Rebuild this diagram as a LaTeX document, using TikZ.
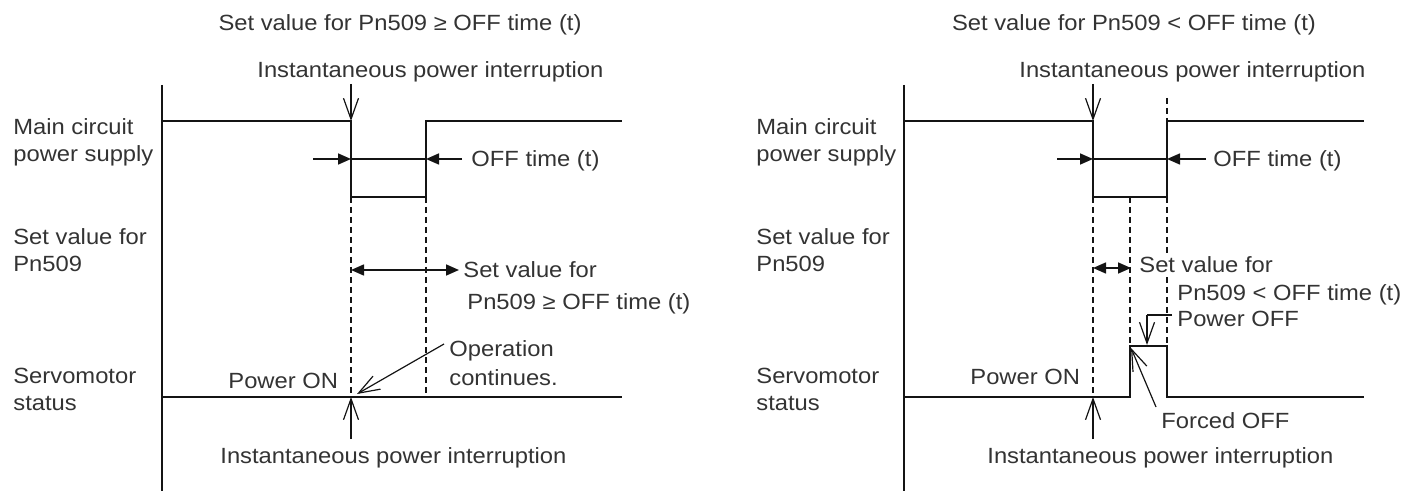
\documentclass[tikz,border=0pt]{standalone}
\usepackage{fontspec}
\setmainfont[FakeStretch=1.08]{Liberation Sans}
\usetikzlibrary{arrows.meta}
\definecolor{txtc}{gray}{0.2}
\definecolor{linec}{gray}{0.08}
\begin{document}
\begin{tikzpicture}[x=0.5pt,y=-0.5pt,
  lbl/.style={anchor=base west, inner sep=0pt, font=\fontsize{11}{13}\selectfont, text=txtc},
  ctr/.style={lbl, anchor=base},
  wave/.style={line width=0.85pt, draw=linec},
  dsh/.style={line width=0.85pt, draw=linec, dash pattern=on 3pt off 2pt},
  vhead/.style={draw=linec, line width=0.6pt, -{Straight Barb[length=10.5pt,width=7.5pt,line width=0.6pt]}},
  fhead/.style={draw=linec, line width=0.8pt, -{Triangle[length=6.5pt,width=5.5pt]}},
  dhead/.style={draw=linec, line width=0.8pt, {Triangle[length=6.5pt,width=5.5pt]}-{Triangle[length=6.5pt,width=5.5pt]}},
  ]
\useasboundingbox (0,0) rectangle (1411,491);

% ================= LEFT PANEL =================
\node[ctr] (Ltitle) at (400,31) {Set value for Pn509 ≥ OFF time (t)};
\node[lbl] (Ltop) at (257,78) {Instantaneous power interruption};
\node[lbl] (Lm1) at (13,135) {Main circuit};
\node[lbl] (Lm2) at (13,162) {power supply};
\node[lbl] (Ls1) at (13,245) {Set value for};
\node[lbl] (Ls2) at (13,271) {Pn509};
\node[lbl] (Lv1) at (13,383) {Servomotor};
\node[lbl] (Lv2) at (13,410) {status};
\node[lbl] (Loff) at (471,167) {OFF time (t)};
\node[lbl] (Lset1) at (463,278) {Set value for};
\node[lbl] (Lset2) at (467,309) {Pn509 ≥ OFF time (t)};
\node[lbl] (Lop1) at (449,356) {Operation};
\node[lbl] (Lop2) at (449,385) {continues.};
\node[lbl] (Lon) at (228,388) {Power ON};
\node[lbl] (Lbot) at (220,463) {Instantaneous power interruption};

\coordinate (LaxT) at (162,85);
\coordinate (LaxB) at (162,491);
\coordinate (L1) at (162,121);
\coordinate (L2) at (351,121);
\coordinate (L3) at (351,197);
\coordinate (L4) at (426,197);
\coordinate (L5) at (426,121);
\coordinate (L6) at (622,121);
\coordinate (LS1) at (162,397);
\coordinate (LS2) at (622,397);
\coordinate (LdA) at (351,397);
\coordinate (LdB) at (426,397);
\coordinate (LiT) at (351,84);
\coordinate (LiB) at (351,439);
\coordinate (LoA) at (313,159);
\coordinate (LoB) at (462,159);
\coordinate (LoL) at (351,159);
\coordinate (LoR) at (426,159);
\coordinate (LsA) at (351,270);
\coordinate (LsB) at (459,270);
\coordinate (LopS) at (444,344);
\coordinate (LopE) at (357,394);

\draw[wave] (LaxT) -- (LaxB);
\draw[wave] (L1) -- (L2) -- (L3) -- (L4) -- (L5) -- (L6);
\draw[wave] (LS1) -- (LS2);
\draw[dsh] (L3) -- (LdA);
\draw[dsh] (L4) -- (LdB);
\draw[wave] (LoL) -- (LoR);
\draw[fhead] (LoA) -- (LoL);
\draw[fhead] (LoB) -- (LoR);
\draw[vhead] (LiT) -- (L2);
\draw[vhead] (LiB) -- (LdA);
\draw[dhead] (LsA) -- (LsB);
\draw[vhead] (LopS) -- (LopE);

% ================= RIGHT PANEL =================
\node[ctr] (Rtitle) at (1134,31) {Set value for Pn509 < OFF time (t)};
\node[lbl] (Rtop) at (1019,78) {Instantaneous power interruption};
\node[lbl] (Rm1) at (756,135) {Main circuit};
\node[lbl] (Rm2) at (756,162) {power supply};
\node[lbl] (Rs1) at (756,245) {Set value for};
\node[lbl] (Rs2) at (756,271) {Pn509};
\node[lbl] (Rv1) at (756,383) {Servomotor};
\node[lbl] (Rv2) at (756,410) {status};
\node[lbl] (Roff) at (1213,167) {OFF time (t)};
\node[lbl] (Rset2) at (1177,300) {Pn509 < OFF time (t)};
\node[lbl] (Rpoff) at (1177,327) {Power OFF};
\node[lbl] (Rfoff) at (1161,428) {Forced OFF};
\node[lbl] (Ron) at (970,384) {Power ON};
\node[lbl] (Rbot) at (987,463) {Instantaneous power interruption};

\coordinate (RaxT) at (904,85);
\coordinate (RaxB) at (904,491);
\coordinate (R1) at (904,121);
\coordinate (R2) at (1093,121);
\coordinate (R3) at (1093,197);
\coordinate (R4) at (1167,197);
\coordinate (R5) at (1167,121);
\coordinate (R6) at (1364,121);
\coordinate (R5t) at (1167,98);
\coordinate (RP) at (1130,197);
\coordinate (RS1) at (904,397);
\coordinate (RS2) at (1130,397);
\coordinate (RS3) at (1130,346);
\coordinate (RS4) at (1167,346);
\coordinate (RS5) at (1167,397);
\coordinate (RS6) at (1364,397);
\coordinate (RdA) at (1093,397);
\coordinate (RiT) at (1093,84);
\coordinate (RiB) at (1093,439);
\coordinate (RoA) at (1057,159);
\coordinate (RoB) at (1206,159);
\coordinate (RoL) at (1093,159);
\coordinate (RoR) at (1167,159);
\coordinate (RsA) at (1093,268);
\coordinate (RsB) at (1131,268);
\coordinate (RpoA) at (1172,315);
\coordinate (RpoB) at (1147,315);
\coordinate (RpoE) at (1147,345);
\coordinate (RfoS) at (1156,407);
\coordinate (RfoE) at (1131,348);

\draw[wave] (RaxT) -- (RaxB);
\draw[wave] (R1) -- (R2) -- (R3) -- (R4) -- (R5) -- (R6);
\draw[dsh] (R5t) -- (R5);
\draw[wave] (RS1) -- (RS2) -- (RS3) -- (RS4) -- (RS5) -- (RS6);
\draw[dsh] (R3) -- (RdA);
\draw[dsh] (RP) -- (RS3);
\draw[dsh] (R4) -- (RS4);
\draw[wave] (RoL) -- (RoR);
\draw[fhead] (RoA) -- (RoL);
\draw[fhead] (RoB) -- (RoR);
\draw[vhead] (RiT) -- (R2);
\draw[vhead] (RiB) -- (RdA);
\draw[dhead] (RsA) -- (RsB);
\draw[draw=linec, line width=0.6pt] (RpoA) -- (RpoB);
\draw[vhead] (RpoB) -- (RpoE);
\draw[vhead] (RfoS) -- (RfoE);
% label drawn last so that it masks the dashed line behind it
\node[lbl, fill=white, inner xsep=0pt, inner ysep=2pt] (Rset1) at (1139,273) {Set value for};
\end{tikzpicture}
\end{document}
